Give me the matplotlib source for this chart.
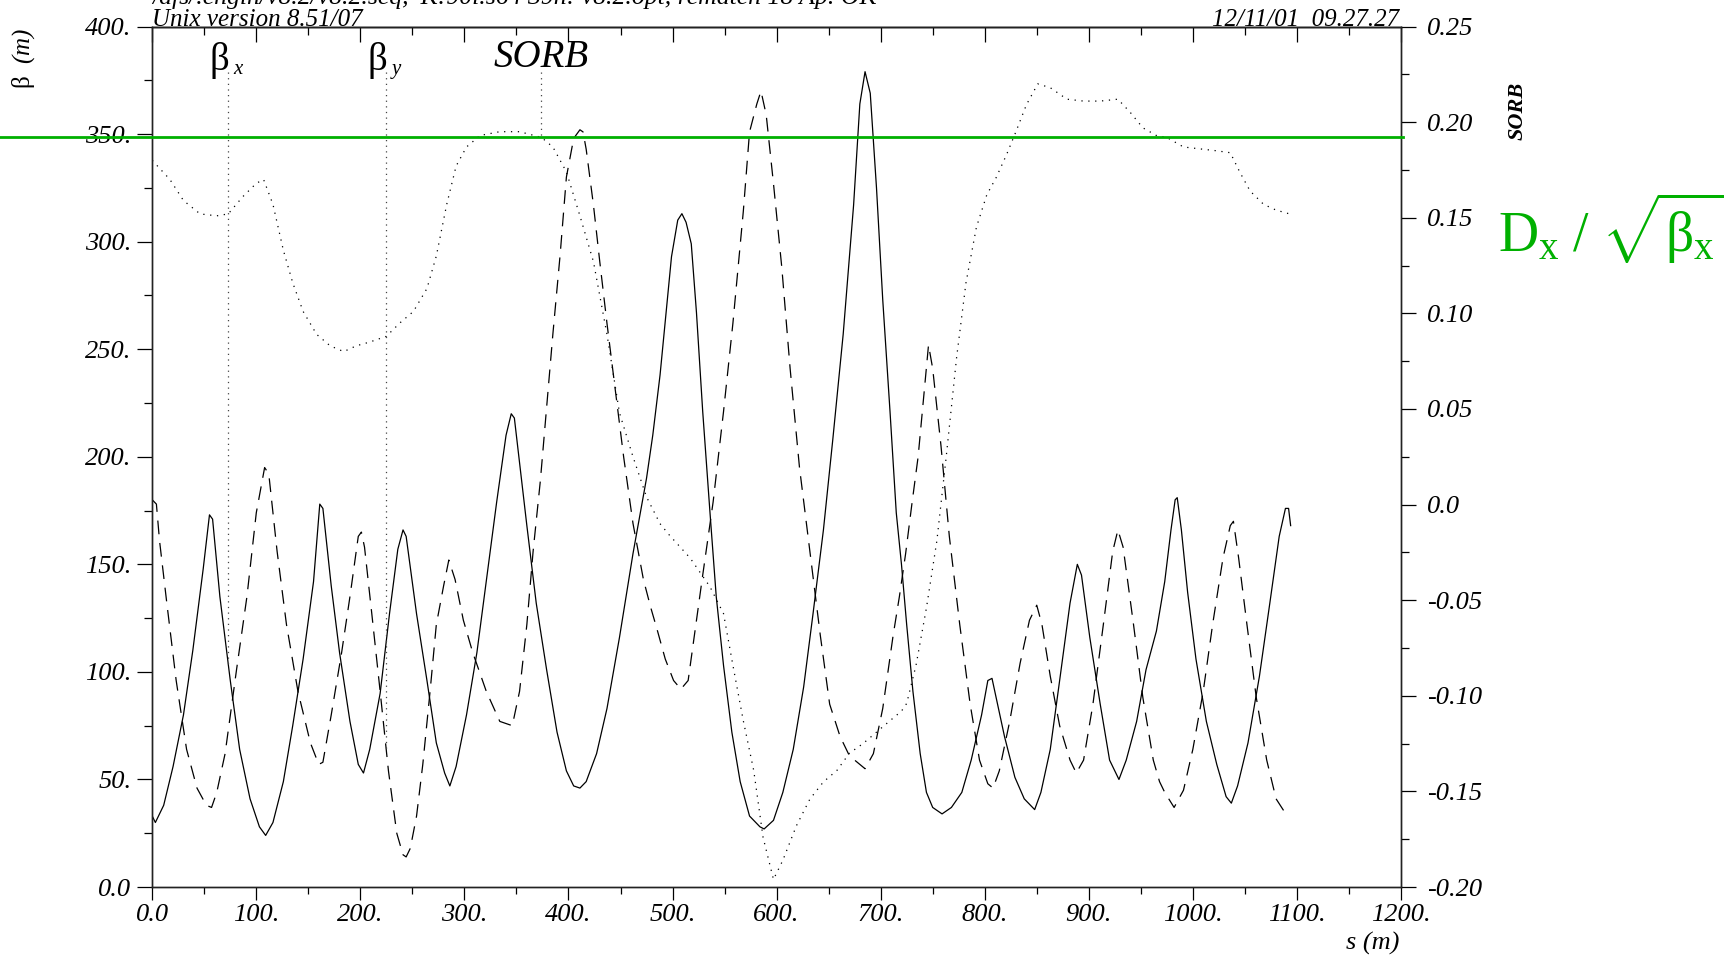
import numpy as np
import matplotlib.pyplot as plt
from matplotlib.ticker import FixedLocator, FixedFormatter, MultipleLocator

plt.rcParams['font.family'] = ['Liberation Serif', 'DejaVu Serif']
plt.rcParams['font.style'] = 'italic'
plt.rcParams['mathtext.fontset'] = 'custom'
plt.rcParams['mathtext.rm'] = 'Liberation Serif:style=normal'
plt.rcParams['mathtext.it'] = 'Liberation Serif:style=italic'
plt.rcParams['mathtext.bf'] = 'Liberation Serif:style=normal:weight=bold'

# beta_x (solid), s in m
s_bx = [0, 3, 11, 20, 30, 39, 49, 55, 58, 65, 75, 84, 94, 103, 109, 116, 126, 135,
        145, 155, 161, 164, 172, 180, 190, 198, 203, 209, 219, 228, 236, 241, 244,
        254, 264, 273, 281, 286, 292, 302, 312, 321, 331, 340, 345, 348, 353, 360,
        369, 379, 389, 398, 405, 411, 417, 427, 437, 449, 462, 475, 481, 488, 494,
        499, 505, 509, 513, 518, 523, 529, 536, 542, 549, 557, 565, 574, 584, 588,
        597, 606, 616, 626, 635, 645, 654, 664, 674, 680, 685, 690, 696, 702, 709,
        715, 720, 725, 731, 738, 744, 750, 759, 768, 778, 787, 797, 803, 807, 811,
        819, 829, 838, 848, 854, 863, 872, 882, 889, 893, 901, 911, 920, 929, 936,
        946, 955, 965, 973, 979, 983, 985, 989, 995, 1003, 1013, 1023, 1032, 1037,
        1043, 1053, 1064, 1074, 1083, 1089, 1092, 1094]
bx = [33, 30, 38, 56, 80, 110, 148, 173, 171, 135, 96, 64, 41, 28, 24, 30, 49, 75,
      106, 142, 178, 176, 140, 109, 77, 57, 53, 64, 90, 127, 157, 166, 163,
      127, 96, 67, 53, 47, 56, 80, 109, 142, 179, 210, 220, 218, 197, 168,
      132, 101, 72, 54, 47, 46, 49, 62, 83, 116, 155, 190, 210, 238, 268,
      293, 310, 313, 309, 299, 267, 221, 174, 135, 103, 72, 49, 33, 28, 27,
      31, 44, 64, 93, 127, 166, 208, 257, 317, 364, 379, 369, 325, 273, 221,
      174, 150, 122, 91, 62, 44, 37, 34, 37, 44, 59, 80, 96, 97, 88,
      70, 51, 41, 36, 44, 64, 96, 132, 150, 145, 116, 85, 59, 50, 59,
      77, 101, 119, 142, 166, 180, 181, 166, 137, 106, 77, 57, 42, 39,
      47, 67, 98, 132, 163, 176, 176, 168]

# beta_y (dashed)
s_by = [0, 4, 7, 14, 23, 33, 43, 52, 57, 62, 70, 81, 91, 100, 108, 112, 120, 129,
        140, 152, 160, 164, 172, 182, 190, 198, 201, 204, 211, 219, 227, 235, 241,
        244, 248, 254, 260, 267, 273, 280, 285, 291, 299, 308, 321, 334, 346, 353,
        360, 366, 373, 379, 385, 392, 398, 405, 411, 414, 417, 424, 430, 437, 445,
        453, 462, 472, 479, 485, 493, 501, 508, 515, 521, 529, 539, 549, 558, 568,
        574, 581, 585, 590, 597, 605, 613, 622, 632, 642, 651, 661, 670, 680, 685,
        693, 702, 712, 718, 724, 730, 736, 741, 746, 750, 758, 766, 776, 786, 795,
        803, 808, 814, 824, 834, 843, 850, 855, 863, 872, 882, 888, 895, 904, 914,
        923, 928, 933, 943, 952, 962, 968, 973, 982, 991, 1000, 1010, 1019, 1029,
        1036, 1039, 1044, 1052, 1061, 1071, 1080, 1088]
by = [180, 178, 161, 132, 96, 64, 46, 38, 37, 44, 62, 101, 135, 174, 195, 192, 156, 122,
      91, 67, 57, 58, 80, 109, 135, 163, 165, 158, 127, 91, 54, 25, 15,
      14, 18, 33, 57, 91, 122, 140, 152, 143, 124, 109, 91, 77, 75, 91,
      122, 156, 189, 223, 257, 294, 330, 348, 352, 351, 343, 317, 291, 262, 231,
      200, 169, 143, 130, 120, 106, 96, 92, 96, 117, 145, 179, 221, 262, 314,
      351, 364, 370, 359, 327, 288, 241, 195, 156, 117, 85, 70, 61, 57, 55,
      62, 83, 117, 135, 155, 178, 200, 226, 252, 241, 205, 163, 122, 85, 59,
      48, 46, 54, 77, 104, 124, 131, 122, 98, 75, 59, 53, 59, 85, 122,
      156, 166, 158, 122, 88, 59, 49, 44, 37, 45, 64, 91, 122, 153,
      168, 170, 153, 122, 88, 59, 41, 35]

# SORB (dotted, right axis)
s_sorb = [0, 17, 30, 46, 62, 73, 87, 100, 107, 116, 126, 135, 145, 158, 171, 184,
          196, 209, 225, 238, 251, 264, 273, 283, 292, 302, 315, 334, 353, 374, 385,
          398, 411, 424, 437, 449, 462, 475, 488, 497, 517, 536, 549, 558, 568, 578,
          587, 597, 606, 619, 632, 645, 658, 670, 683, 696, 709, 720, 725, 734, 744,
          754, 763, 773, 782, 792, 802, 811, 821, 830, 840, 851, 863, 879, 895, 911,
          928, 940, 952, 965, 975, 991, 1007, 1023, 1036, 1045, 1055, 1068, 1080, 1093]
sorb = [0.180, 0.170, 0.159, 0.152, 0.151, 0.152, 0.161, 0.168, 0.170, 0.157, 0.133,
        0.116, 0.101, 0.089, 0.083, 0.080, 0.083, 0.085, 0.088, 0.095, 0.101, 0.113,
        0.130, 0.157, 0.177, 0.187, 0.193, 0.195, 0.195, 0.192, 0.187, 0.174, 0.151,
        0.127, 0.089, 0.048, 0.025, 0.004, -0.010, -0.016, -0.028, -0.043, -0.057,
        -0.084, -0.113, -0.139, -0.174, -0.196, -0.186, -0.168, -0.154, -0.145,
        -0.139, -0.130, -0.125, -0.119, -0.113, -0.108, -0.104, -0.084, -0.054,
        -0.019, 0.025, 0.077, 0.116, 0.145, 0.162, 0.171, 0.183, 0.195, 0.209,
        0.220, 0.218, 0.212, 0.211, 0.211, 0.212, 0.205, 0.197, 0.193, 0.192,
        0.187, 0.186, 0.185, 0.184, 0.174, 0.164, 0.157, 0.154, 0.152]

green_level = 0.192          # Dx/sqrt(betax) level, right-axis units
label_s = [73, 225, 374]     # positions of the curve labels
label_top = 379

x_ticks = list(range(0, 1201, 100))
x_labels = ['0.0'] + ['%d.' % v for v in x_ticks[1:]]
y_ticks = list(range(0, 401, 50))
y_labels = ['0.0'] + ['%d.' % v for v in y_ticks[1:]]
r_ticks = [-0.20, -0.15, -0.10, -0.05, 0.0, 0.05, 0.10, 0.15, 0.20, 0.25]
r_labels = ['-0.20', '-0.15', '-0.10', '-0.05', '0.0', '0.05', '0.10', '0.15', '0.20', '0.25']

fig = plt.figure(figsize=(17.3, 9.57), dpi=100)
ax = fig.add_axes([0.0880, 0.0731, 0.7218, 0.8992])
ax2 = ax.twinx()

ax.set_xlim(0, 1200)
ax.set_ylim(0, 400)
ax2.set_ylim(-0.2, 0.25)

ax.plot(s_bx, bx, color='black', lw=0.9)
ax.plot(s_by, by, color='black', lw=0.9, linestyle=(0, (11, 7)))
ax2.plot(s_sorb, sorb, color='black', lw=0.9, linestyle=(0, (1, 4.5)))

# label drop lines
dot = dict(color='#444444', lw=0.9, linestyle=(0, (1, 3.5)))
ax.plot([label_s[0]] * 2, [label_top, np.interp(label_s[0], s_bx, bx)], **dot)
ax.plot([label_s[1]] * 2, [label_top, np.interp(label_s[1], s_by, by)], **dot)
top_r = -0.2 + label_top * 0.45 / 400
ax2.plot([label_s[2]] * 2, [top_r, np.interp(label_s[2], s_sorb, sorb)], **dot)

ax.text(label_s[0] + 1, 380, 'β', ha='right', va='baseline', fontsize=28, style='normal')
ax.text(label_s[0] + 5, 378, 'x', ha='left', va='baseline', fontsize=15)
ax.text(label_s[1] + 1, 380, 'β', ha='right', va='baseline', fontsize=28, style='normal')
ax.text(label_s[1] + 5, 378, 'y', ha='left', va='baseline', fontsize=15)
ax.text(label_s[2], 381, 'SORB', ha='center', va='baseline', fontsize=28)

# green reference line, running out to the figure edge
pos = ax.get_position()
ax2.axhline(green_level, xmin=-pos.x0 / pos.width, xmax=1.002, color='#00b000',
            lw=2.0, clip_on=False, zorder=5)

# ticks
ax.xaxis.set_major_locator(FixedLocator(x_ticks))
ax.xaxis.set_major_formatter(FixedFormatter(x_labels))
ax.xaxis.set_minor_locator(MultipleLocator(50))
ax.yaxis.set_major_locator(FixedLocator(y_ticks))
ax.yaxis.set_major_formatter(FixedFormatter(y_labels))
ax.yaxis.set_minor_locator(MultipleLocator(25))
ax2.yaxis.set_major_locator(FixedLocator(r_ticks))
ax2.yaxis.set_major_formatter(FixedFormatter(r_labels))
ax2.yaxis.set_minor_locator(MultipleLocator(0.025))

ax.tick_params(axis='x', which='major', direction='out', length=9, width=0.9, labelsize=19, pad=3)
ax.tick_params(axis='x', which='minor', direction='out', length=5, width=0.9)
ax.tick_params(axis='y', which='major', direction='out', length=11, width=0.9, labelsize=19, pad=4)
ax.tick_params(axis='y', which='minor', direction='out', length=6, width=0.9)
ax2.tick_params(axis='y', which='major', direction='out', length=11, width=0.9, labelsize=19, pad=8)
ax2.tick_params(axis='y', which='minor', direction='out', length=6, width=0.9)

top = ax.secondary_xaxis('top')
top.xaxis.set_major_locator(FixedLocator(x_ticks))
top.xaxis.set_minor_locator(MultipleLocator(50))
top.tick_params(which='major', direction='in', length=11, width=0.9, labeltop=False)
top.tick_params(which='minor', direction='in', length=6, width=0.9)
top.spines['top'].set_linewidth(1.0)

for a in (ax, ax2):
    for sp in a.spines.values():
        sp.set_linewidth(1.0)
        sp.set_color('#222222')

# texts around the frame (first header line is cut by the top edge, as in the original)
fig.text(0.0880, 0.9958, "/afs/.engin/v8.2/v8.2.seq, 'K:90i.s64 39n: v8.2.opt, rematch 18 Ap. OK",
         ha='left', va='baseline', fontsize=18.5)
fig.text(0.0880, 0.9725, 'Unix version 8.51/07', ha='left', va='baseline', fontsize=18)
fig.text(0.8087, 0.9725, '12/11/01  09.27.27', ha='right', va='baseline', fontsize=18)
fig.text(0.8087, 0.0075, 's (m)', ha='right', va='baseline', fontsize=19)
fig.text(0.0139, 0.939, r'$\mathrm{\beta}$  (m)', rotation=90, ha='center', va='center',
         fontsize=18)
fig.text(0.877, 0.884, 'SORB', rotation=90, ha='center', va='center', fontsize=16, weight='bold')
fig.text(0.931, 0.762, r'$\mathrm{D_x}\ /\ \sqrt{\mathrm{\beta_x}}$', color='#00b000',
         ha='center', va='center', fontsize=40, style='normal')

fig.savefig('out.png', dpi=100)
